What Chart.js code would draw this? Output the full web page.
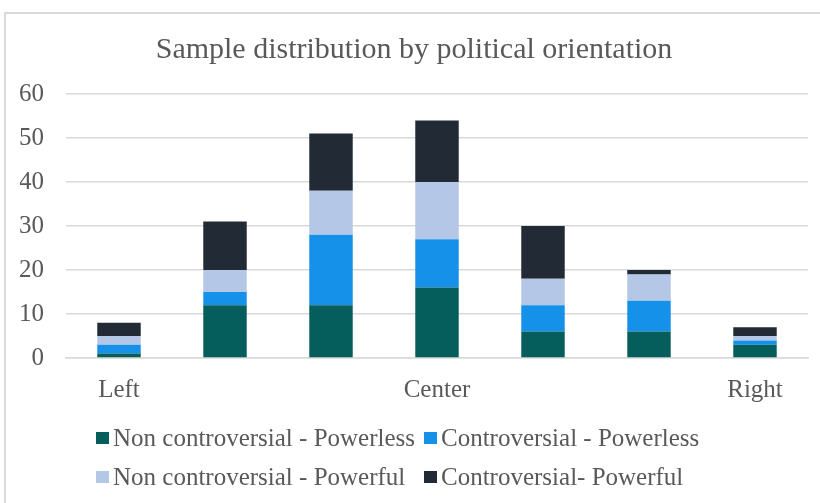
<!DOCTYPE html>
<html>
<head>
<meta charset="utf-8">
<script src="https://cdn.jsdelivr.net/npm/chart.js@4/dist/chart.umd.min.js"></script>
<style>
  html, body { margin: 0; padding: 0; background: #fff; overflow: hidden; width: 820px; height: 503px; }
  #frame {
    position: absolute; left: 4px; top: 12px; width: 830px; height: 500px;
    border-left: 2px solid #d9d9d9; border-top: 2px solid #d9d9d9;
  }
  #c { position: absolute; left: 0; top: 0; }
  #legend {
    position: absolute; left: 96px; top: 418px;
    display: grid; grid-template-columns: 328px 300px; row-gap: 0;
    font-family: "Liberation Serif", "Times New Roman", serif;
    font-size: 25px; color: #595959;
  }
  .item { display: flex; align-items: center; height: 39px; white-space: nowrap; }
  .swatch { width: 13px; height: 12px; margin-right: 4px; flex: none; }
</style>
</head>
<body>
<div id="frame"></div>
<canvas id="c" width="820" height="420"></canvas>
<div id="legend"></div>
<script>
// Political orientation buckets (only the anchors carry a label)
const categories = ['Left', '', '', 'Center', '', '', 'Right'];

// Respondent counts per group
const nonControversialPowerless = [1, 12, 12, 16, 6, 6, 3];
const controversialPowerless    = [2, 3, 16, 11, 6, 7, 1];
const nonControversialPowerful  = [2, 5, 10, 13, 6, 6, 1];
const controversialPowerful     = [3, 11, 13, 14, 12, 1, 2];

const seriesNames = [
  'Non controversial - Powerless',
  'Controversial - Powerless',
  'Non controversial - Powerful',
  'Controversial- Powerful'
];
const seriesColors = ['#055e5c', '#1591e9', '#b4c7e7', '#222a35'];

const yTicks = { min: 0, max: 60, step: 10 };

const serif = '"Liberation Serif", "Times New Roman", serif';
const textColor = '#595959';

const datasets = [nonControversialPowerless, controversialPowerless,
                  nonControversialPowerful, controversialPowerful].map((d, i) => ({
  label: seriesNames[i],
  data: d,
  backgroundColor: seriesColors[i],
  borderWidth: 0,
  categoryPercentage: 1.0,
  barPercentage: 0.41
}));

const chart = new Chart(document.getElementById('c'), {
  type: 'bar',
  data: { labels: categories, datasets },
  options: {
    responsive: false,
    animation: false,
    layout: { padding: { left: 20, right: 12, top: 32, bottom: 6 } },
    plugins: {
      title: {
        display: true,
        text: 'Sample distribution by political orientation',
        color: textColor,
        font: { family: serif, size: 30, weight: 'normal' },
        padding: { top: 0, bottom: 26 }
      },
      legend: { display: false },
      tooltip: { enabled: false }
    },
    scales: {
      x: {
        stacked: true,
        grid: { display: false },
        border: { display: true, color: '#d9d9d9', width: 1.5 },
        ticks: { color: textColor, font: { family: serif, size: 25 }, maxRotation: 0, autoSkip: false, padding: 9 }
      },
      y: {
        stacked: true,
        min: yTicks.min,
        max: yTicks.max,
        ticks: { stepSize: yTicks.step, color: textColor, font: { family: serif, size: 25 }, padding: 22 },
        grid: { color: '#d9d9d9', lineWidth: 1.5, drawTicks: false },
        border: { display: false },
        afterFit: (scale) => { scale.width = 46; }
      }
    }
  }
});

// Legend laid out as a two-column grid, built from the chart's datasets
const legendEl = document.getElementById('legend');
chart.data.datasets.forEach(ds => {
  const item = document.createElement('div');
  item.className = 'item';
  const sw = document.createElement('span');
  sw.className = 'swatch';
  sw.style.background = ds.backgroundColor;
  const txt = document.createElement('span');
  txt.textContent = ds.label;
  item.appendChild(sw);
  item.appendChild(txt);
  legendEl.appendChild(item);
});
</script>
</body>
</html>
